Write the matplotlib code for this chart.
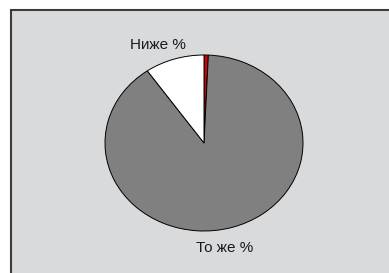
import matplotlib.pyplot as plt
from matplotlib.patches import Rectangle

plt.rcParams['font.family'] = ['Liberation Sans', 'DejaVu Sans']

# slice shares, clockwise from 12 o'clock
labels = ['Выше %', 'То же %', 'Ниже %']
shares = [0.7, 89.6, 9.7]
colors = ['#d00000', '#808080', '#ffffff']

W, H = 389, 273
fig = plt.figure(figsize=(W / 100, H / 100), dpi=100)

# grey chart area with dark border on left/top (right/bottom run off the image)
fig.patches.append(Rectangle((10.5 / W, -0.1), 1, (H - 9.5) / H + 0.1, transform=fig.transFigure,
                             facecolor='#d9dadc', edgecolor='#3c3c3c', linewidth=1.5, zorder=-1))

# pie is an ellipse: rx ~ 99 px, ry ~ 88 px, centre at (204, 143)
cx, cy, rx, ry = 204, 143, 99, 88
ax = fig.add_axes([(cx - rx) / W, (H - cy - ry) / H, 2 * rx / W, 2 * ry / H])
ax.pie(shares, colors=colors, startangle=90, counterclock=False,
       wedgeprops=dict(edgecolor='black', linewidth=0.7))
ax.set_aspect('auto')
ax.set_xlim(-1, 1)
ax.set_ylim(-1, 1)
ax.axis('off')

ax.text((158 - cx) / rx, (cy - 45) / ry, labels[2], ha='center', va='center',
        fontsize=11, color='#1a1a1a')
ax.text((225 - cx) / rx, (cy - 248) / ry, labels[1], ha='center', va='center',
        fontsize=11, color='#1a1a1a')

fig.savefig('out.png', dpi=100)
